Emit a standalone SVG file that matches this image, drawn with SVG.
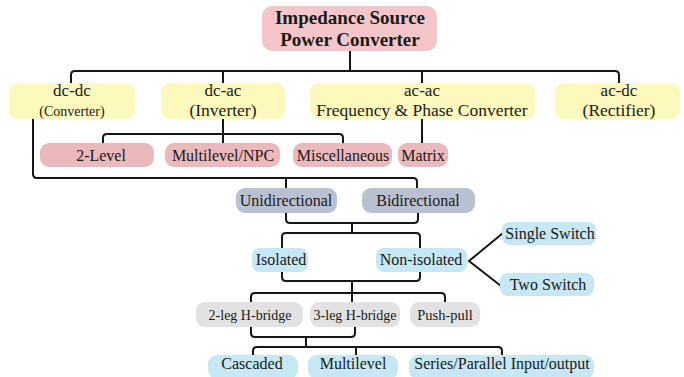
<svg xmlns="http://www.w3.org/2000/svg" width="684" height="377" viewBox="0 0 684 377">
<style>
text{font-family:"Liberation Serif","Times New Roman",serif;fill:#1a1a1a;text-anchor:middle}
.t17{font-size:17px}.t16{font-size:16px}.t14{font-size:14px}
.pk{fill:#f5c6c9}.yl{fill:#fdf9bd}.rd{fill:#ebb8bb}.sl{fill:#b9c0d1}.bl{fill:#c6e7f4}.gy{fill:#e2e2e2}
#connectors path{fill:none;stroke:#151515;stroke-width:2}
</style>
<rect width="684" height="377" fill="#ffffff"/>
<g id="connectors">
<path d="M350,51 V71"/>
<path d="M71,83 V75 Q71,71 75,71 H615 Q619,71 619,75 V83"/>
<path d="M223,71 V83 M422,71 V83"/>
<path d="M223,119 V143 M422,119 V143"/>
<path d="M103,143 V138 Q103,134 107,134 H339 Q343,134 343,138 V143"/>
<path d="M33,119 V174 Q33,178 37,178 H413 Q417,178 417,182 V188 M286,178 V188"/>
<path d="M286,213 V219 Q286,223 290,223 H414 Q418,223 418,219 V213 M352,223 V233"/>
<path d="M282,248 V237 Q282,233 286,233 H416 Q420,233 420,237 V248"/>
<path d="M503,233 L469,261 L501,286"/>
<path d="M282,272 V277 Q282,281 286,281 H416 Q420,281 420,277 V272 M352,281 V302"/>
<path d="M251,302 V297 Q251,293 255,293 H441 Q445,293 445,297 V302"/>
<path d="M251,327 V333 Q251,337 255,337 H351 Q355,337 355,333 V327 M306,337 V347"/>
<path d="M253,355 V351 Q253,347 257,347 H498 Q502,347 502,351 V355 M356,347 V355"/>
</g>
<g id="root"><rect class="pk" x="262" y="6" width="175" height="45" rx="10"/>
<text x="350" y="24" style="font-size:19px;font-weight:bold">Impedance Source</text>
<text x="350" y="46" style="font-size:19px;font-weight:bold">Power Converter</text></g>
<g id="dcdc"><rect class="yl" x="9" y="83" width="126" height="36" rx="9"/>
<text class="t17" x="72" y="96">dc-dc</text><text class="t14" x="72" y="116">(Converter)</text></g>
<g id="dcac"><rect class="yl" x="161" y="83" width="124" height="36" rx="9"/>
<text class="t17" x="223" y="96">dc-ac</text><text x="223" y="116" style="font-size:17.5px">(Inverter)</text></g>
<g id="acac"><rect class="yl" x="310" y="83" width="225" height="36" rx="9"/>
<text class="t17" x="422" y="96">ac-ac</text><text x="422" y="116" style="font-size:17.5px">Frequency &amp; Phase Converter</text></g>
<g id="acdc"><rect class="yl" x="555" y="83" width="125" height="36" rx="9"/>
<text class="t17" x="619" y="96">ac-dc</text><text x="619" y="116" style="font-size:17.5px">(Rectifier)</text></g>
<g id="twolevel"><rect class="rd" x="40" y="143" width="114" height="24" rx="9"/><text class="t16" x="101" y="161">2-Level</text></g>
<g id="multinpc"><rect class="rd" x="165" y="143" width="115" height="24" rx="9"/><text class="t16" x="223" y="161">Multilevel/NPC</text></g>
<g id="misc"><rect class="rd" x="293" y="143" width="99" height="24" rx="9"/><text class="t16" x="343" y="161">Miscellaneous</text></g>
<g id="matrix"><rect class="rd" x="398" y="143" width="50" height="24" rx="9"/><text class="t16" x="423" y="161">Matrix</text></g>
<g id="uni"><rect class="sl" x="236" y="188" width="101" height="25" rx="9"/><text class="t16" x="286" y="206">Unidirectional</text></g>
<g id="bi"><rect class="sl" x="362" y="188" width="113" height="25" rx="9"/><text class="t16" x="418" y="206">Bidirectional</text></g>
<g id="isolated"><rect class="bl" x="252" y="248" width="56" height="24" rx="8"/><text class="t16" x="281" y="265">Isolated</text></g>
<g id="nonisolated"><rect class="bl" x="376" y="248" width="91" height="24" rx="8"/><text class="t16" x="421" y="265">Non-isolated</text></g>
<g id="single"><rect class="bl" x="502" y="222" width="94" height="23" rx="8"/><text class="t16" x="550" y="239">Single Switch</text></g>
<g id="two"><rect class="bl" x="500" y="273" width="94" height="23" rx="8"/><text class="t16" x="548" y="290">Two Switch</text></g>
<g id="leg2"><rect class="gy" x="196" y="302" width="107" height="25" rx="9"/><text class="t14" x="250" y="320">2-leg H-bridge</text></g>
<g id="leg3"><rect class="gy" x="310" y="302" width="90" height="25" rx="9"/><text class="t14" x="355" y="320">3-leg H-bridge</text></g>
<g id="pushpull"><rect class="gy" x="410" y="302" width="70" height="25" rx="9"/><text x="445" y="320" style="font-size:14.5px">Push-pull</text></g>
<g id="cascaded"><rect class="bl" x="208" y="355" width="90" height="24" rx="9"/><text class="t16" x="252" y="369">Cascaded</text></g>
<g id="multilevel"><rect class="bl" x="308" y="355" width="90" height="24" rx="9"/><text class="t16" x="353" y="369">Multilevel</text></g>
<g id="series"><rect class="bl" x="409" y="355" width="185" height="24" rx="9"/><text class="t16" x="502" y="369">Series/Parallel Input/output</text></g>
</svg>
